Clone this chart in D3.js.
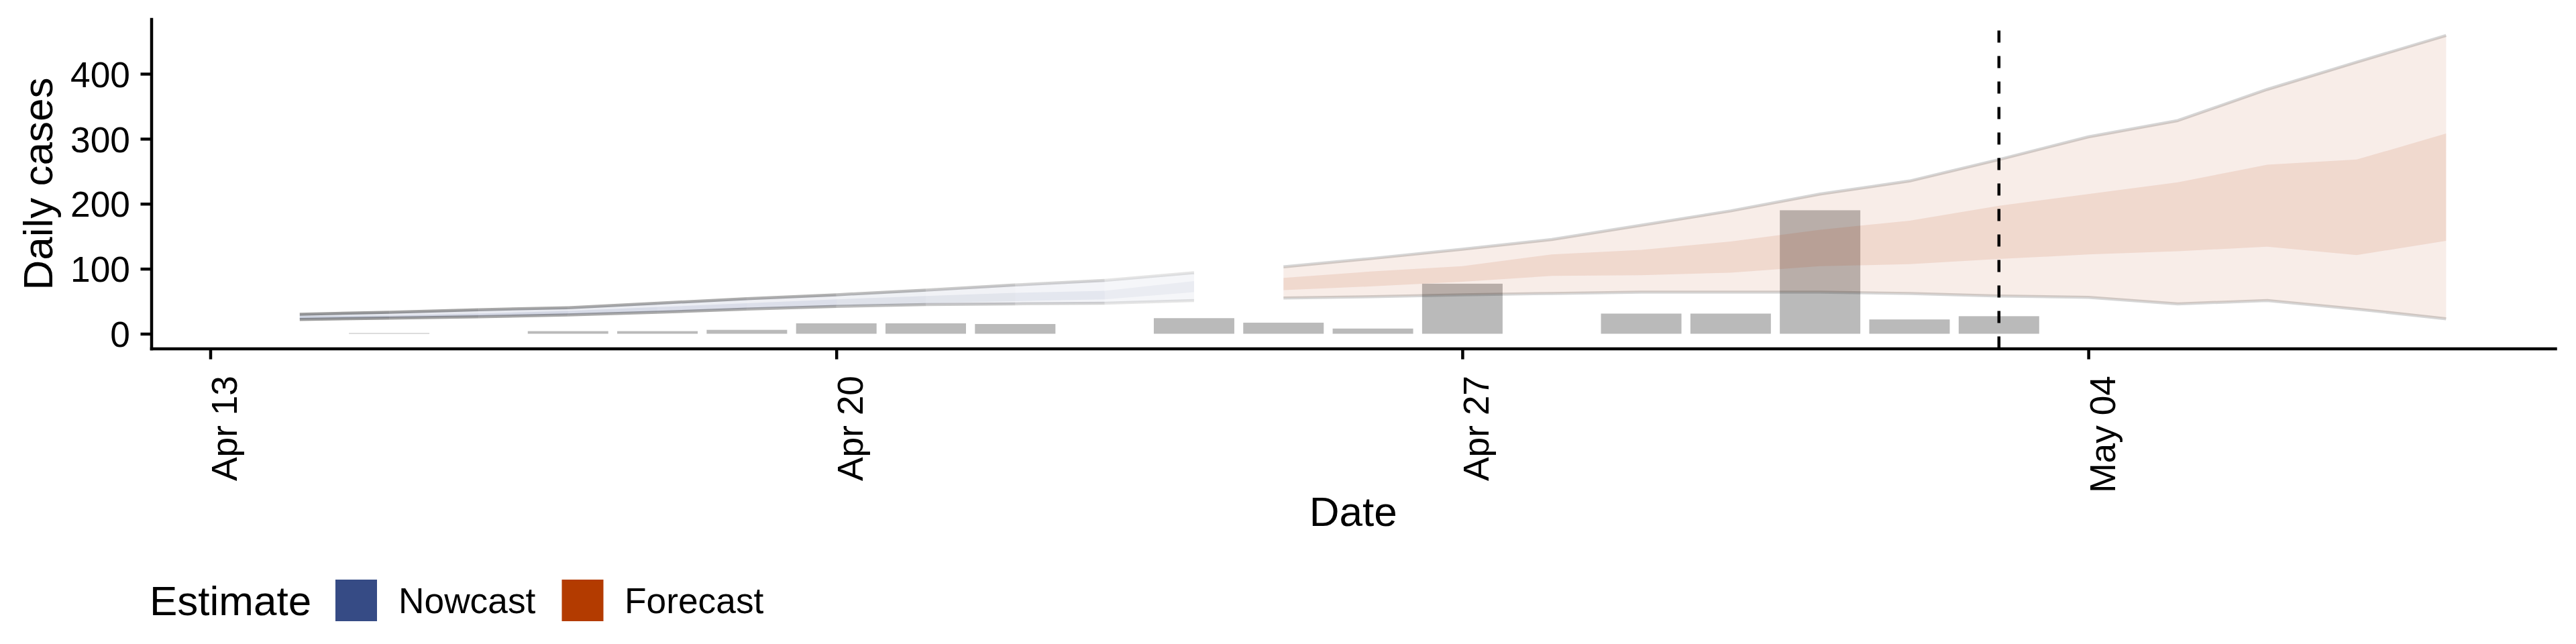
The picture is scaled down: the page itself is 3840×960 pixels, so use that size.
<!DOCTYPE html>
<html>
<head>
<meta charset="utf-8">
<script src="https://cdn.jsdelivr.net/npm/d3@7"></script>
<style>
html, body { margin: 0; padding: 0; background: #ffffff; }
svg { display: block; font-family: "Liberation Sans", Arial, Helvetica, sans-serif; }
</style>
</head>
<body>
<svg id="chart" width="3840" height="960"></svg>
<script>
// ---------------- DATA ----------------
const reportDates = ["2020-04-14","2020-04-15","2020-04-16","2020-04-17","2020-04-18","2020-04-19","2020-04-20",
  "2020-04-21","2020-04-22","2020-04-23","2020-04-24","2020-04-25","2020-04-26","2020-04-27","2020-04-28",
  "2020-04-29","2020-04-30","2020-05-01","2020-05-02","2020-05-03"];
const reportedCases = [0, 1, 0, 4, 4, 6, 16, 16, 15, 0, 24, 17, 8, 77, 0, 31, 31, 190, 22, 27];

const nowcastDates = ["2020-04-14","2020-04-15","2020-04-16","2020-04-17","2020-04-18","2020-04-19",
  "2020-04-20","2020-04-21","2020-04-22","2020-04-23","2020-04-24"];
const nowcastLower90 = [22, 24, 26, 29, 33, 38, 42, 45, 46, 47, 51];
const nowcastLower50 = [23.5, 25, 27, 30, 34, 39, 43, 47, 50, 53, 64];
const nowcastUpper50 = [27, 28, 31, 35, 41, 47, 53, 58, 63, 66, 81];
const nowcastUpper90 = [30, 33, 37, 40, 47, 54, 60, 67, 75, 82, 94];

const forecastDates = ["2020-04-25","2020-04-26","2020-04-27","2020-04-28","2020-04-29","2020-04-30",
  "2020-05-01","2020-05-02","2020-05-03","2020-05-04","2020-05-05","2020-05-06","2020-05-07","2020-05-08"];
const forecastLower90 = [55, 57, 60, 62, 64, 64, 64, 62, 58, 56, 46, 51, 38, 23];
const forecastLower50 = [67, 73, 80, 89, 90, 94, 104, 107, 115, 122, 127, 134, 121, 143];
const forecastUpper50 = [86, 96, 104, 122, 129, 142, 160, 174, 197, 215, 233, 260, 268, 308];
const forecastUpper90 = [103, 116, 130, 145, 167, 189, 215, 235, 268, 303, 328, 376, 418, 459];

const estimateTypes = ["Nowcast", "Forecast"];
const vlineDate = "2020-05-03";
const xTickDates = ["2020-04-13","2020-04-20","2020-04-27","2020-05-04"];
const yTicks = [0, 100, 200, 300, 400];
const xTitle = "Date";
const yTitle = "Daily cases";
const legendTitle = "Estimate";

// ---------------- STYLE ----------------
const COLORS = { Nowcast: "#364B85", Forecast: "#B33B00" };
const BAR_FILL = "#BABABA";
// per-segment fade of the nowcast (older = more opaque)
const nowcastLineAlpha  = [0.39, 0.365, 0.34, 0.33, 0.325, 0.31, 0.26, 0.21, 0.165, 0.10];
const nowcastOuterAlpha = [0.13, 0.12, 0.11, 0.10, 0.095, 0.085, 0.08, 0.07, 0.06, 0.05];
const nowcastInnerAlpha = [0.14, 0.13, 0.12, 0.11, 0.10, 0.095, 0.085, 0.08, 0.075, 0.055];
const forecastOuterAlpha = 0.09, forecastInnerAlpha = 0.11, forecastLineAlpha = 0.16;
const LW = 4.5;
const TITLE_SIZE = 62, TEXT_SIZE = 53.3;

// ---------------- SCALES ----------------
const DAY = 86400000;
const parse = s => new Date(s + "T00:00:00Z");
const panel = { left: 225.5, right: 3809, top: 28.6, bottom: 519.6 };
const x0 = parse("2020-04-13").getTime();
const x = d3.scaleUtc()
  .domain([new Date(x0 - 0.66 * DAY), new Date(x0 + 26.22 * DAY)])
  .range([panel.left, panel.right]);
const y = d3.scaleLinear().domain([-22.8, 484]).range([panel.bottom, panel.top]);

const svg = d3.select("#chart");
svg.append("rect").attr("width", 3840).attr("height", 960).attr("fill", "#fff");

// ---------------- BARS ----------------
const bars = reportDates.map((d, i) => ({ date: parse(d), value: reportedCases[i] }));
svg.append("g").selectAll("rect").data(bars.filter(b => b.value > 0)).join("rect")
  .attr("x", d => x(new Date(d.date.getTime() - 0.45 * DAY)))
  .attr("width", d => x(new Date(d.date.getTime() + 0.45 * DAY)) - x(new Date(d.date.getTime() - 0.45 * DAY)))
  .attr("y", d => y(d.value))
  .attr("height", d => y(0) - y(d.value))
  .attr("fill", BAR_FILL);

// ---------------- RIBBONS ----------------
const mkRows = (ds, l90, l50, u50, u90) => ds.map((d, i) => ({ date: parse(d), l90: l90[i], l50: l50[i], u50: u50[i], u90: u90[i] }));
const nowRows = mkRows(nowcastDates, nowcastLower90, nowcastLower50, nowcastUpper50, nowcastUpper90);
const fcRows = mkRows(forecastDates, forecastLower90, forecastLower50, forecastUpper50, forecastUpper90);

const band = (lo, hi) => d3.area().x(d => x(d.date)).y0(d => y(d[lo])).y1(d => y(d[hi]));
const edge = key => d3.line().x(d => x(d.date)).y(d => y(d[key]));

const gR = svg.append("g");
// nowcast: segment by segment with fading alpha
for (let i = 0; i < nowRows.length - 1; i++) {
  const seg = nowRows.slice(i, i + 2);
  gR.append("path").attr("d", band("l90", "u90")(seg)).attr("fill", COLORS.Nowcast).attr("fill-opacity", nowcastOuterAlpha[i]);
  gR.append("path").attr("d", band("l50", "u50")(seg)).attr("fill", COLORS.Nowcast).attr("fill-opacity", nowcastInnerAlpha[i]);
}
for (let i = 0; i < nowRows.length - 1; i++) {
  const seg = nowRows.slice(i, i + 2);
  ["l90", "u90"].forEach(k => {
    gR.append("path").attr("d", edge(k)(seg)).attr("fill", "none")
      .attr("stroke", "#000").attr("stroke-opacity", nowcastLineAlpha[i]).attr("stroke-width", LW);
  });
}
// forecast
gR.append("path").attr("d", band("l90", "u90")(fcRows)).attr("fill", COLORS.Forecast).attr("fill-opacity", forecastOuterAlpha);
gR.append("path").attr("d", band("l50", "u50")(fcRows)).attr("fill", COLORS.Forecast).attr("fill-opacity", forecastInnerAlpha);
["l90", "u90"].forEach(k => {
  gR.append("path").attr("d", edge(k)(fcRows)).attr("fill", "none")
    .attr("stroke", "#000").attr("stroke-opacity", forecastLineAlpha).attr("stroke-width", LW)
    .attr("stroke-linejoin", "round");
});

// ---------------- VLINE ----------------
svg.append("line")
  .attr("x1", x(parse(vlineDate))).attr("x2", x(parse(vlineDate)))
  .attr("y1", panel.bottom).attr("y2", panel.top)
  .attr("stroke", "#000").attr("stroke-width", LW).attr("stroke-dasharray", "18,20");

// ---------------- AXES ----------------
const fmt = d3.utcFormat("%b %d");
const xAxis = d3.axisBottom(x).tickValues(xTickDates.map(parse)).tickFormat(fmt).tickSize(16).tickSizeOuter(0);
const gx = svg.append("g").attr("transform", `translate(0,${panel.bottom})`).call(xAxis);
gx.selectAll("text")
  .attr("x", 0).attr("y", 0).attr("dy", null)
  .attr("text-anchor", "end")
  .attr("transform", "translate(39,40.4) rotate(-90)")
  .attr("font-size", TEXT_SIZE).attr("fill", "#000")
  .attr("font-family", '"Liberation Sans", Arial, Helvetica, sans-serif');

const yAxis = d3.axisLeft(y).tickValues(yTicks).tickSize(16).tickPadding(15.5).tickSizeOuter(0);
const gy = svg.append("g").attr("transform", `translate(${panel.left},0)`).call(yAxis);
gy.selectAll("text")
  .attr("dy", "0.36em")
  .attr("font-size", TEXT_SIZE).attr("fill", "#000")
  .attr("font-family", '"Liberation Sans", Arial, Helvetica, sans-serif');

[gx, gy].forEach(g => {
  g.select(".domain").attr("stroke", "#000").attr("stroke-width", LW).attr("stroke-linecap", "square");
  g.selectAll(".tick line").attr("stroke", "#000").attr("stroke-width", LW);
});

// axis titles
svg.append("text").attr("x", (panel.left + panel.right) / 2).attr("y", 784)
  .attr("text-anchor", "middle").attr("font-size", TITLE_SIZE).attr("fill", "#000").text(xTitle);
svg.append("text").attr("transform", `translate(78,${(panel.top + panel.bottom) / 2}) rotate(-90)`)
  .attr("text-anchor", "middle").attr("font-size", TITLE_SIZE).attr("fill", "#000").text(yTitle);

// ---------------- LEGEND ----------------
const lg = svg.append("g");
lg.append("text").attr("x", 223).attr("y", 917).attr("font-size", TITLE_SIZE).attr("fill", "#000").text(legendTitle);
const keyX = [500, 837.5], labX = [594, 931];
estimateTypes.forEach((t, i) => {
  lg.append("rect").attr("x", keyX[i]).attr("y", 864).attr("width", 62).attr("height", 62).attr("fill", COLORS[t]);
  lg.append("text").attr("x", labX[i]).attr("y", 914).attr("font-size", TEXT_SIZE).attr("fill", "#000").text(t);
});
</script>
</body>
</html>
